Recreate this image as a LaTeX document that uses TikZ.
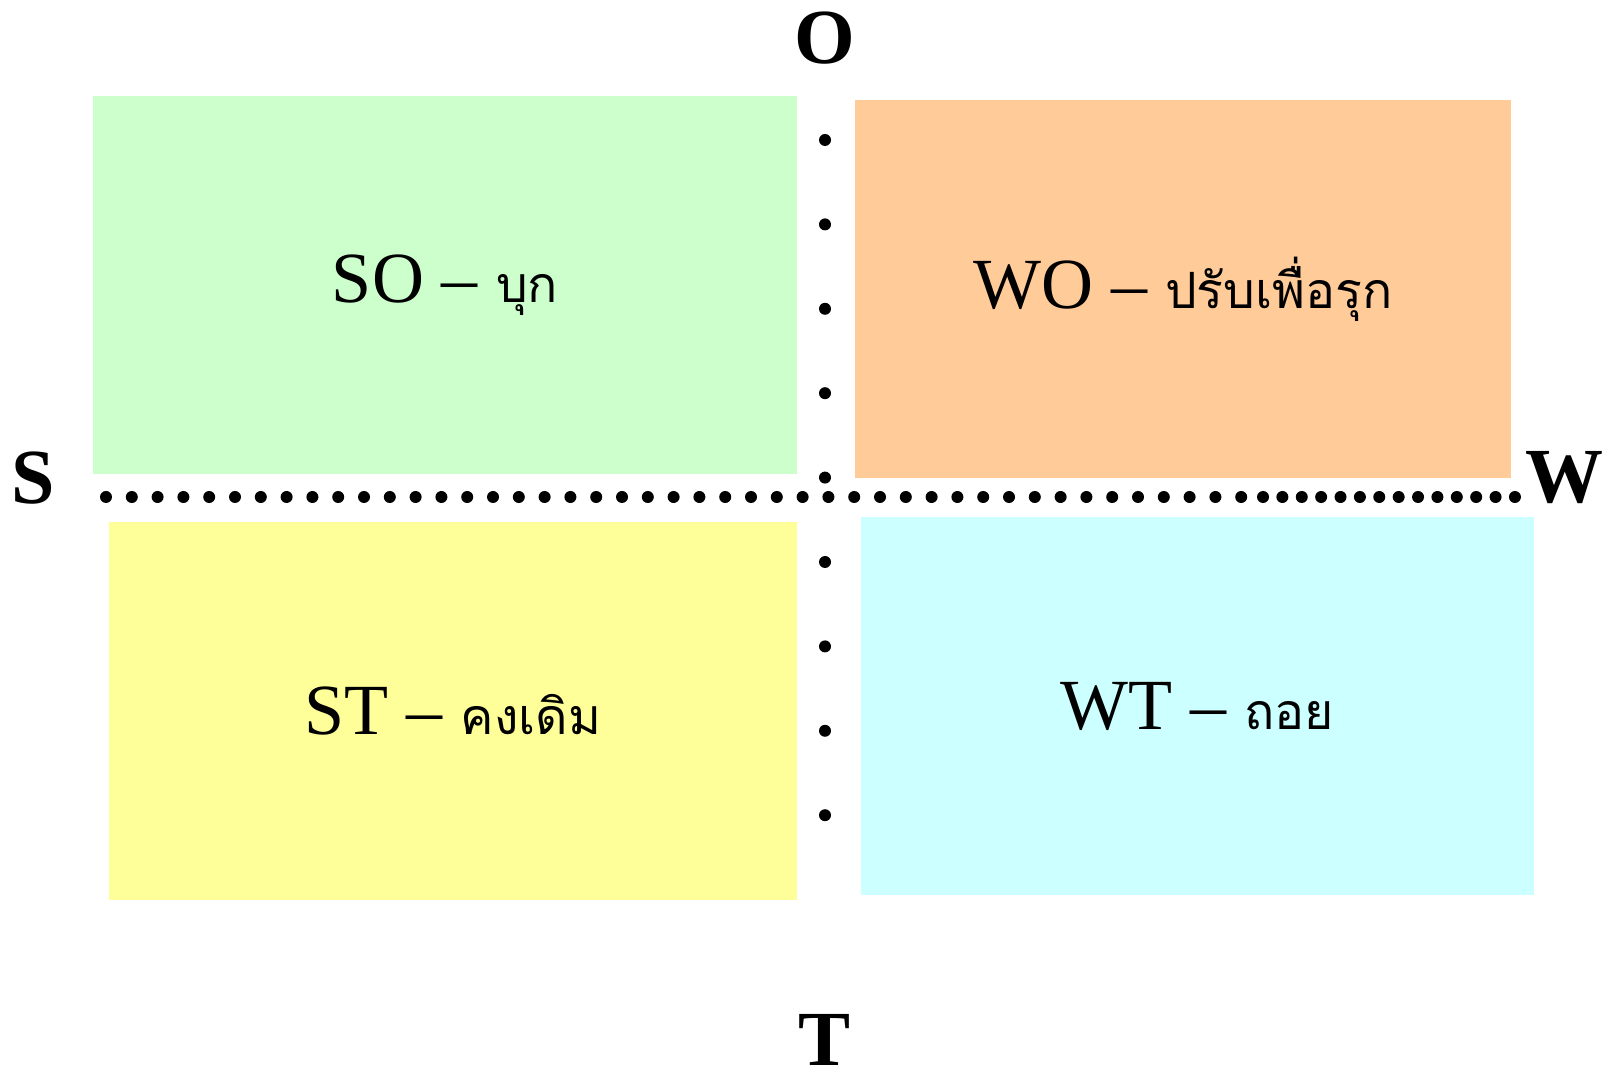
\documentclass[tikz,border=0pt]{standalone}
\usepackage{fontspec}
\setmainfont{Liberation Serif}
\newfontfamily\thaifont[Script=Thai]{Loma}
\definecolor{soGreen}{HTML}{CCFFCC}
\definecolor{woOrange}{HTML}{FFCC99}
\definecolor{stYellow}{HTML}{FFFF99}
\definecolor{wtCyan}{HTML}{CCFFFF}
\newcommand{\thai}[1]{{\thaifont\fontsize{25}{29}\selectfont #1}}
\begin{document}
\begin{tikzpicture}[
    x=0.5pt,y=-0.5pt,
    quad/.style={inner sep=0pt, font=\fontsize{36}{40}\selectfont},
    axis/.style={inner sep=0pt, font=\fontsize{39}{44}\selectfont\bfseries},
    dot/.style={fill=black}
]
    \useasboundingbox (0,0) rectangle (1613,1079);

    % four quadrants
    \node[quad, fill=soGreen, minimum width=352.3pt, minimum height=189.3pt] (so) at (445,285) {SO -- \thai{บุก}};
    \node[quad, fill=woOrange, minimum width=328.2pt, minimum height=189.3pt] (wo) at (1183,289) {WO -- \thai{ปรับเพื่อรุก}};
    \node[quad, fill=stYellow, minimum width=344pt, minimum height=189.3pt] (st) at (453,711) {ST -- \thai{คงเดิม}};
    \node[quad, fill=wtCyan, minimum width=336.5pt, minimum height=188.8pt] (wt) at (1197.5,706) {WT -- \thai{ถอย}};

    % axis letters
    \node[axis] (o) at (825,38) {O};
    \node[axis] (t) at (825,1040) {T};
    \node[axis] (s) at (33,478) {S};
    \node[axis] (w) at (1564,478) {W};

    % dotted axes
    \foreach \i in {0,...,44} {
        \fill[dot] (106+25.8*\i,497) circle[radius=3pt];
    }
    \foreach \i in {0,...,13} {
        \fill[dot] (1263+19.38*\i,497) circle[radius=3pt];
    }
    \foreach \k in {0,...,8} {
        \fill[dot] (825,140+84.4*\k) circle[radius=3pt];
    }
\end{tikzpicture}
\end{document}
